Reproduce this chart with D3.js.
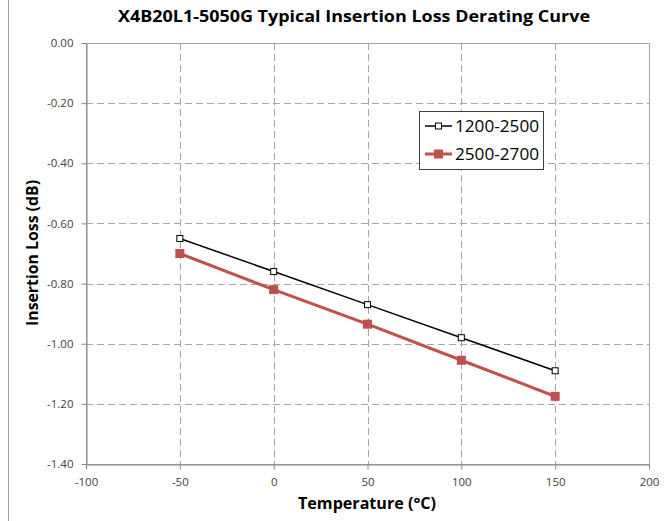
<!DOCTYPE html>
<html><head><meta charset="utf-8">
<script src="https://cdn.jsdelivr.net/npm/d3@7"></script>
<style>body{margin:0;background:#fff;}svg{display:block;font-family:"Open Sans",sans-serif;}</style>
</head><body><svg id="c" width="668" height="521"></svg>
<script>
const temps = [-50, 0, 50, 100, 150];
const seriesNames = ["1200-2500", "2500-2700"];
const lossA = [-0.65, -0.76, -0.87, -0.98, -1.09];
const lossB = [-0.70, -0.82, -0.935, -1.055, -1.175];
const xTicks = [-100, -50, 0, 50, 100, 150, 200];
const yTicks = [0, -0.2, -0.4, -0.6, -0.8, -1.0, -1.2, -1.4];

const svg = d3.select("#c");
const L = 86, R = 649, T = 43, B = 464;
const x = d3.scaleLinear().domain([-100, 200]).range([L, R]);
const y = d3.scaleLinear().domain([0, -1.4]).range([T, B]);

// outer border line (left)
svg.append("line").attr("x1", 8.5).attr("x2", 8.5).attr("y1", 0).attr("y2", 521).attr("stroke", "#a0a0a0");

// grid
svg.append("g").selectAll("line").data(xTicks.slice(1, -1)).join("line")
  .attr("x1", d => Math.round(x(d)) + 0.5).attr("x2", d => Math.round(x(d)) + 0.5)
  .attr("y1", T).attr("y2", B).attr("stroke", "#a6a6a6").attr("stroke-dasharray", "7,4");
svg.append("g").selectAll("line").data(yTicks.slice(1, -1)).join("line")
  .attr("x1", L).attr("x2", R)
  .attr("y1", d => Math.round(y(d)) + 0.5).attr("y2", d => Math.round(y(d)) + 0.5)
  .attr("stroke", "#a6a6a6").attr("stroke-dasharray", "7,4");
// frame
svg.append("rect").attr("x", L + 0.5).attr("y", T + 0.5).attr("width", R - L).attr("height", B - T)
  .attr("fill", "none").attr("stroke", "#a6a6a6");

// axes
const xAxis = svg.append("g").attr("transform", `translate(0,${B + 0.5})`)
  .call(d3.axisBottom(x).tickValues(xTicks).tickFormat(d3.format("d")).tickSize(5).tickSizeOuter(0));
const yAxis = svg.append("g").attr("transform", `translate(${L + 0.5},0)`)
  .call(d3.axisLeft(y).tickValues(yTicks).tickFormat(d3.format(".2f")).tickSize(5).tickSizeOuter(0));
[xAxis, yAxis].forEach(a => {
  a.select(".domain").attr("stroke", "#868686");
  a.selectAll(".tick line").attr("stroke", "#868686");
  a.selectAll(".tick text").attr("fill", "#404040").attr("font-size", "11.5px").attr("font-family", "Open Sans, sans-serif");
});
xAxis.selectAll(".tick text").attr("dy", "1.2em");
yAxis.selectAll(".tick text").attr("x", -13).text(d => d3.format(".2f")(d).replace("−", "-"));
xAxis.selectAll(".tick text").text(d => String(d));

// lines
const line = d3.line().x((d, i) => x(temps[i])).y(d => y(d));
svg.append("path").datum(lossB).attr("d", line).attr("fill", "none").attr("stroke", "#c0504d").attr("stroke-width", 3);
svg.append("g").selectAll("rect").data(lossB).join("rect")
  .attr("x", (d, i) => x(temps[i]) - 4.5).attr("y", d => y(d) - 4.5).attr("width", 9).attr("height", 9)
  .attr("fill", "#c0504d");
svg.append("path").datum(lossA).attr("d", line).attr("fill", "none").attr("stroke", "#000").attr("stroke-width", 1.5);
svg.append("g").selectAll("rect").data(lossA).join("rect")
  .attr("x", (d, i) => x(temps[i]) - 3).attr("y", d => y(d) - 3).attr("width", 6).attr("height", 6)
  .attr("fill", "#fff").attr("stroke", "#000").attr("stroke-width", 1);

// legend
const lg = svg.append("g");
lg.append("rect").attr("x", 419.5).attr("y", 111.5).attr("width", 124).attr("height", 58)
  .attr("fill", "#fff").attr("stroke", "#404040").attr("stroke-width", 1);
lg.append("line").attr("x1", 425).attr("x2", 452).attr("y1", 126).attr("y2", 126).attr("stroke", "#000").attr("stroke-width", 1.5);
lg.append("rect").attr("x", 435.5).attr("y", 123).attr("width", 6).attr("height", 6).attr("fill", "#fff").attr("stroke", "#000");
lg.append("line").attr("x1", 425).attr("x2", 452).attr("y1", 154).attr("y2", 154).attr("stroke", "#c0504d").attr("stroke-width", 3);
lg.append("rect").attr("x", 434).attr("y", 149.5).attr("width", 9).attr("height", 9).attr("fill", "#c0504d");
lg.selectAll("text").data(seriesNames).join("text")
  .attr("x", 455).attr("y", (d, i) => 132 + i * 28).attr("font-size", "17px").attr("fill", "#000")
  .attr("textLength", 84).attr("lengthAdjust", "spacingAndGlyphs").text(d => d);

// titles
svg.append("text").attr("x", 354).attr("y", 22).attr("text-anchor", "middle")
  .attr("font-size", "16px").attr("font-weight", "bold").attr("textLength", 472).attr("lengthAdjust", "spacingAndGlyphs")
  .text("X4B20L1-5050G Typical  Insertion  Loss  Derating  Curve");
svg.append("text").attr("x", 367).attr("y", 509).attr("text-anchor", "middle")
  .attr("font-size", "16px").attr("font-weight", "bold").attr("textLength", 138).attr("lengthAdjust", "spacingAndGlyphs")
  .text("Temperature (°C)");
svg.append("text").attr("transform", "translate(38,253) rotate(-90)").attr("text-anchor", "middle")
  .attr("font-size", "16px").attr("font-weight", "bold").attr("textLength", 146).attr("lengthAdjust", "spacingAndGlyphs")
  .text("Insertion Loss (dB)");
</script></body></html>
